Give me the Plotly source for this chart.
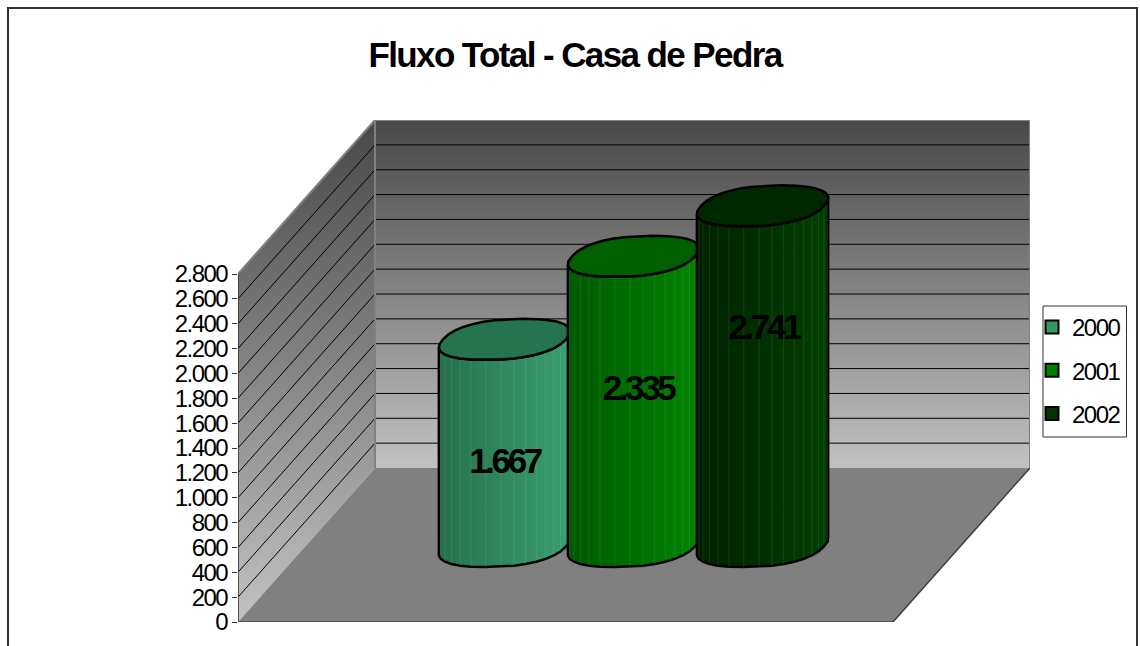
import numpy as np
import plotly.graph_objects as go

# --- DATA ---
years = ["2000", "2001", "2002"]
fluxo = [1667, 2335, 2741]
y_ticks = [0, 200, 400, 600, 800, 1000, 1200, 1400, 1600, 1800, 2000, 2200, 2400, 2600, 2800]
title = "Fluxo Total - Casa de Pedra"

# --- STYLE ---
colors = ["#339966", "#008000", "#003300"]
left_colors = ["#26704c", "#005800", "#002000"]
right_colors = ["#3aa070", "#008400", "#004000"]
cap_colors = ["#267350", "#006000", "#002800"]

# the 3D box is an oblique projection, kept in axis units
PX_X = 129.0                 # pixels per bar slot
PX_Y = 348.0 / 2800          # pixels per value unit
X_LEFT = (238 - 504.5) / PX_X
X_RIGHT = (1030 - 504.5) / PX_X
FLOOR_RIGHT = (893 - 504.5) / PX_X
DEPTH_X = 137 / PX_X
DEPTH_Y = 154 / PX_Y
TOP = y_ticks[-1]
BACK_LEFT = X_LEFT + DEPTH_X

# cylinder base, tilted and slightly squared ellipse
BASE_Y = (622 - 546.5) / PX_Y
RX_A = 61.5 / PX_X
RX_B = 18.7 / PX_X
RY = 20.5 / PX_Y
ROUND = 0.86
# where the value labels sit, as share of the bar height, and nudge sideways
label_share = [0.396, 0.535, 0.634]
label_nudge = [0.0, 0.035, 0.01]

fig = go.Figure()


def poly(xs, ys, fill=None, gradient=None, line="rgba(0,0,0,0)", width=0):
    fig.add_trace(go.Scatter(
        x=xs, y=ys, mode="lines", fill="toself", fillcolor=fill, fillgradient=gradient,
        line=dict(color=line, width=width), showlegend=False, hoverinfo="skip", cliponaxis=False,
    ))


def lines(xs, ys, color, width=1):
    fig.add_trace(go.Scatter(
        x=xs, y=ys, mode="lines", line=dict(color=color, width=width),
        showlegend=False, hoverinfo="skip", cliponaxis=False,
    ))


grey_scale = [[0, "#c2c2c2"], [1, "#484848"]]

# --- WALLS AND FLOOR ---
poly([X_LEFT, BACK_LEFT, BACK_LEFT, X_LEFT], [0, DEPTH_Y, DEPTH_Y + TOP, TOP],
     gradient=dict(type="vertical", colorscale=grey_scale))
poly([BACK_LEFT, X_RIGHT, X_RIGHT, BACK_LEFT], [DEPTH_Y, DEPTH_Y, DEPTH_Y + TOP, DEPTH_Y + TOP],
     gradient=dict(type="vertical", colorscale=grey_scale))
poly([X_LEFT, FLOOR_RIGHT, X_RIGHT, BACK_LEFT], [0, 0, DEPTH_Y, DEPTH_Y], fill="#808080")

# gridlines, side wall then back wall
gx, gy = [], []
for v in y_ticks[1:-1]:
    gx += [X_LEFT, BACK_LEFT, X_RIGHT, None]
    gy += [v, v + DEPTH_Y, v + DEPTH_Y, None]
lines(gx, gy, "#000000", 1)

# wall frame
lines([X_LEFT, BACK_LEFT, X_RIGHT, X_RIGHT], [TOP, DEPTH_Y + TOP, DEPTH_Y + TOP, DEPTH_Y], "#808080", 2)
lines([BACK_LEFT, BACK_LEFT], [DEPTH_Y + TOP, DEPTH_Y], "#808080", 2)
# front edges
lines([X_LEFT, X_LEFT], [TOP, 0], "#333333", 1.5)
lines([X_LEFT, FLOOR_RIGHT, X_RIGHT], [0, 0, DEPTH_Y], "#404040", 1.5)

# --- CYLINDERS ---
around = np.linspace(0, 2 * np.pi, 33)
ring_c = np.sign(np.cos(around)) * np.abs(np.cos(around)) ** ROUND
ring_s = np.sign(np.sin(around)) * np.abs(np.sin(around)) ** ROUND
ring_x = RX_A * ring_c + RX_B * ring_s
ring_y = RY * ring_s
# front half of the ring runs from its leftmost point, under, to its rightmost
low = int(np.argmin(ring_x[:-1]))
high = int(np.argmax(ring_x[:-1]))
front = np.arange(low, high + 33) % 32 if high < low else np.arange(low, high + 1)
front_x = ring_x[front]
front_y = ring_y[front]

for i, v in enumerate(fluxo):
    fx = i + front_x
    fy = BASE_Y + front_y
    body_x = list(fx) + list(fx[::-1])
    body_y = list(fy) + list((fy + v)[::-1])
    poly(body_x + body_x[:1], body_y + body_y[:1], line="#000000", width=2.5,
         gradient=dict(type="horizontal", colorscale=[[0, left_colors[i]], [1, right_colors[i]]]))
    # facet seams
    sx, sy = [], []
    for k in range(1, len(fx) - 1):
        sx += [fx[k], fx[k], None]
        sy += [fy[k], fy[k] + v, None]
    lines(sx, sy, "rgba(255,255,255,0.09)", 1)
    poly(i + ring_x, BASE_Y + v + ring_y, fill=cap_colors[i], line="#000000", width=2.5)

# --- VALUE LABELS ---
for i, v in enumerate(fluxo):
    fig.add_trace(go.Scatter(
        x=[i + label_nudge[i]], y=[BASE_Y + v * label_share[i]], mode="text",
        text=[f"{v:,}".replace(",", ".")],
        textfont=dict(family="Liberation Sans", size=35, color="#000000", weight="bold"),
        showlegend=False, hoverinfo="skip", cliponaxis=False,
    ))

# --- LEGEND (own groups so the gap can match) ---
for i, year in enumerate(years):
    fig.add_trace(go.Scatter(
        x=[None], y=[None], mode="markers", name=year, legendgroup=year,
        marker=dict(symbol="square", size=13, color=colors[i], line=dict(color="#000000", width=2)),
    ))

fig.update_layout(
    width=1140, height=646,
    margin=dict(l=238, r=110, t=120, b=24, autoexpand=False),
    paper_bgcolor="#ffffff", plot_bgcolor="#ffffff",
    separators=",.",
    font=dict(family="Liberation Sans", color="#000000"),
    title=dict(text=f"<b>{title}</b>", x=575 / 1140, y=1 - 55 / 646, xref="container", yref="container",
               xanchor="center", yanchor="middle", font=dict(size=35, color="#000000")),
    xaxis=dict(visible=False, range=[X_LEFT, X_RIGHT], fixedrange=True),
    yaxis=dict(range=[0, DEPTH_Y + TOP], tickvals=y_ticks, tickformat=",d", ticks="outside", ticklen=5,
               tickcolor="#333333", tickfont=dict(size=24), showgrid=False, zeroline=False, showline=False,
               fixedrange=True),
    legend=dict(xref="container", yref="container", x=1038 / 1140, y=1 - 305 / 646, xanchor="left", yanchor="top",
                borderwidth=0, bgcolor="rgba(0,0,0,0)", font=dict(size=24), indentation=-6,
                entrywidth=44, entrywidthmode="pixels",
                tracegroupgap=9, itemclick=False, itemdoubleclick=False),
    shapes=[
        # chart frame runs off the bottom of the page
        dict(type="rect", xref="paper", yref="paper",
             x0=(8 - 238) / 792, x1=(1137 - 238) / 792, y0=(622 - 670) / 502, y1=(622 - 8) / 502,
             line=dict(color="#333333", width=2), layer="below"),
        # legend box
        dict(type="rect", xref="paper", yref="paper",
             x0=(1043 - 238) / 792, x1=(1126.5 - 238) / 792, y0=(622 - 437) / 502, y1=(622 - 306) / 502,
             line=dict(color="#333333", width=1), layer="below"),
    ],
)

# page margin off, and the tight letter spacing of the original
tighten = """
document.body.style.margin = '0';
var tight = {'.gtitle': '-1.6px', '.ytick text': '-1.5px', '.legendtext': '-1.5px', '.textpoint text': '-3.4px'};
Object.keys(tight).forEach(function (sel) {
    document.querySelectorAll(sel).forEach(function (t) { t.style.letterSpacing = tight[sel]; });
});
"""
fig.write_html("out.html", config={"displayModeBar": False}, post_script=tighten)
